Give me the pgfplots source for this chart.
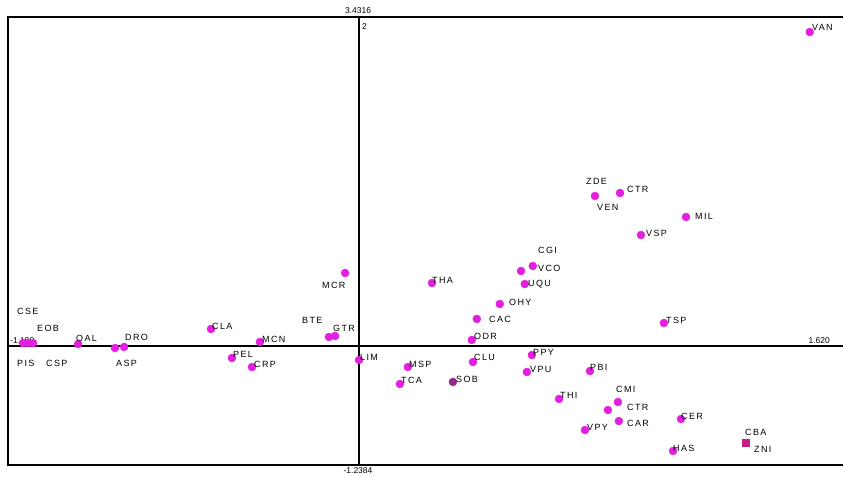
\documentclass[border=0pt]{standalone}
\usepackage{fontspec}
\setmainfont{Liberation Sans}
\newfontfamily\lab[LetterSpace=15]{Liberation Sans}
\usepackage{pgfplots}
\pgfplotsset{compat=1.18}
\definecolor{dot}{RGB}{228,32,224}
\definecolor{dotdark}{RGB}{150,40,140}
\definecolor{dotmid}{RGB}{200,30,130}
\begin{document}
\begin{tikzpicture}[x=1pt,y=1pt]
\useasboundingbox (0,0) rectangle (843,478);
% axis value labels
\begin{scope}[every node/.style={inner sep=0pt,font=\fontsize{8.5}{10}\selectfont}]
\node[anchor=center] at (358,467) {3.4316};
\node[anchor=center] at (358,7) {-1.2384};
\node[anchor=east] at (830,137) {1.620};
\node[anchor=west] at (10,137) {-1.190};
\node[anchor=west] at (362,451) {2};
\end{scope}
\begin{axis}[at={(8pt,13pt)}, anchor=south west, scale only axis,
  width=828pt, height=448pt,
  xmin=-1.19, xmax=1.62, ymin=-1.2384, ymax=3.4316,
  hide axis, clip=false]
\draw[line width=1.8pt] (axis cs:1.644,3.4316) -- (axis cs:-1.19,3.4316) -- (axis cs:-1.19,-1.2384) -- (axis cs:1.644,-1.2384);
\draw[line width=1.8pt] (axis cs:0,-1.2384) -- (axis cs:0,3.4316);
\draw[line width=1.8pt] (axis cs:-1.19,0) -- (axis cs:1.644,0);
\addplot[only marks, mark=*, mark size=4pt, color=dot] coordinates {
(1.531,3.275) (0.802,1.566) (0.887,1.597) (1.111,1.347) (0.958,1.159)
(0.591,0.836) (0.551,0.784) (0.564,0.648) (0.479,0.440) (0.401,0.284)
(0.384,0.065) (0.249,0.659) (-0.046,0.763) (-0.080,0.106) (-0.101,0.096)
(0.001,-0.144) (0.167,-0.217) (0.140,-0.394) (0.388,-0.165) (0.588,-0.092)
(0.571,-0.269) (0.785,-0.259) (0.680,-0.550) (0.880,-0.582) (0.846,-0.665)
(0.883,-0.780) (0.768,-0.874) (1.094,-0.759) (1.067,-1.092) (1.036,0.242)
(-0.501,0.179) (-0.335,0.044) (-0.430,-0.123) (-0.362,-0.217) (-0.952,0.023)
(-0.827,-0.019) (-0.796,-0.008) (-1.139,0.033) (-1.122,0.033) (-1.105,0.033)
};
\addplot[only marks, mark=*, mark size=4pt, color=dotdark] coordinates {(0.320,-0.373)};
\addplot[only marks, mark=square*, mark size=3.5pt, color=dotmid] coordinates {(1.314,-1.009)};
\end{axis}
% point labels
\begin{scope}[every node/.style={inner sep=0pt,anchor=west,font=\fontsize{9}{10}\selectfont\lab}]
\node at (812,451) {VAN};
\node at (586,297) {ZDE};
\node at (627,289) {CTR};
\node at (597,271) {VEN};
\node at (695,262) {MIL};
\node at (646,245) {VSP};
\node at (538,228) {CGI};
\node at (538,210) {VCO};
\node at (528,194) {UQU};
\node at (509,176) {OHY};
\node at (489,159) {CAC};
\node at (474,142) {ODR};
\node at (432,198) {THA};
\node at (322,193) {MCR};
\node at (302,158) {BTE};
\node at (333,150) {GTR};
\node at (360,121) {LIM};
\node at (409,114) {MSP};
\node at (401,98) {TCA};
\node at (456,99) {SOB};
\node at (474,121) {CLU};
\node at (533,126) {PPY};
\node at (530,109) {VPU};
\node at (590,111) {PBI};
\node at (560,83) {THI};
\node at (616,89) {CMI};
\node at (627,71) {CTR};
\node at (627,55) {CAR};
\node at (587,51) {VPY};
\node at (681,62) {CER};
\node at (673,30) {HAS};
\node at (745,46) {CBA};
\node at (754,29) {ZNI};
\node at (666,158) {TSP};
\node at (212,152) {CLA};
\node at (262,139) {MCN};
\node at (233,124) {PEL};
\node at (254,114) {CRP};
\node at (76,140) {OAL};
\node at (125,141) {DRO};
\node at (116,115) {ASP};
\node at (17,167) {CSE};
\node at (37,150) {EOB};
\node at (17,115) {PIS};
\node at (46,115) {CSP};
\end{scope}
\end{tikzpicture}
\end{document}
